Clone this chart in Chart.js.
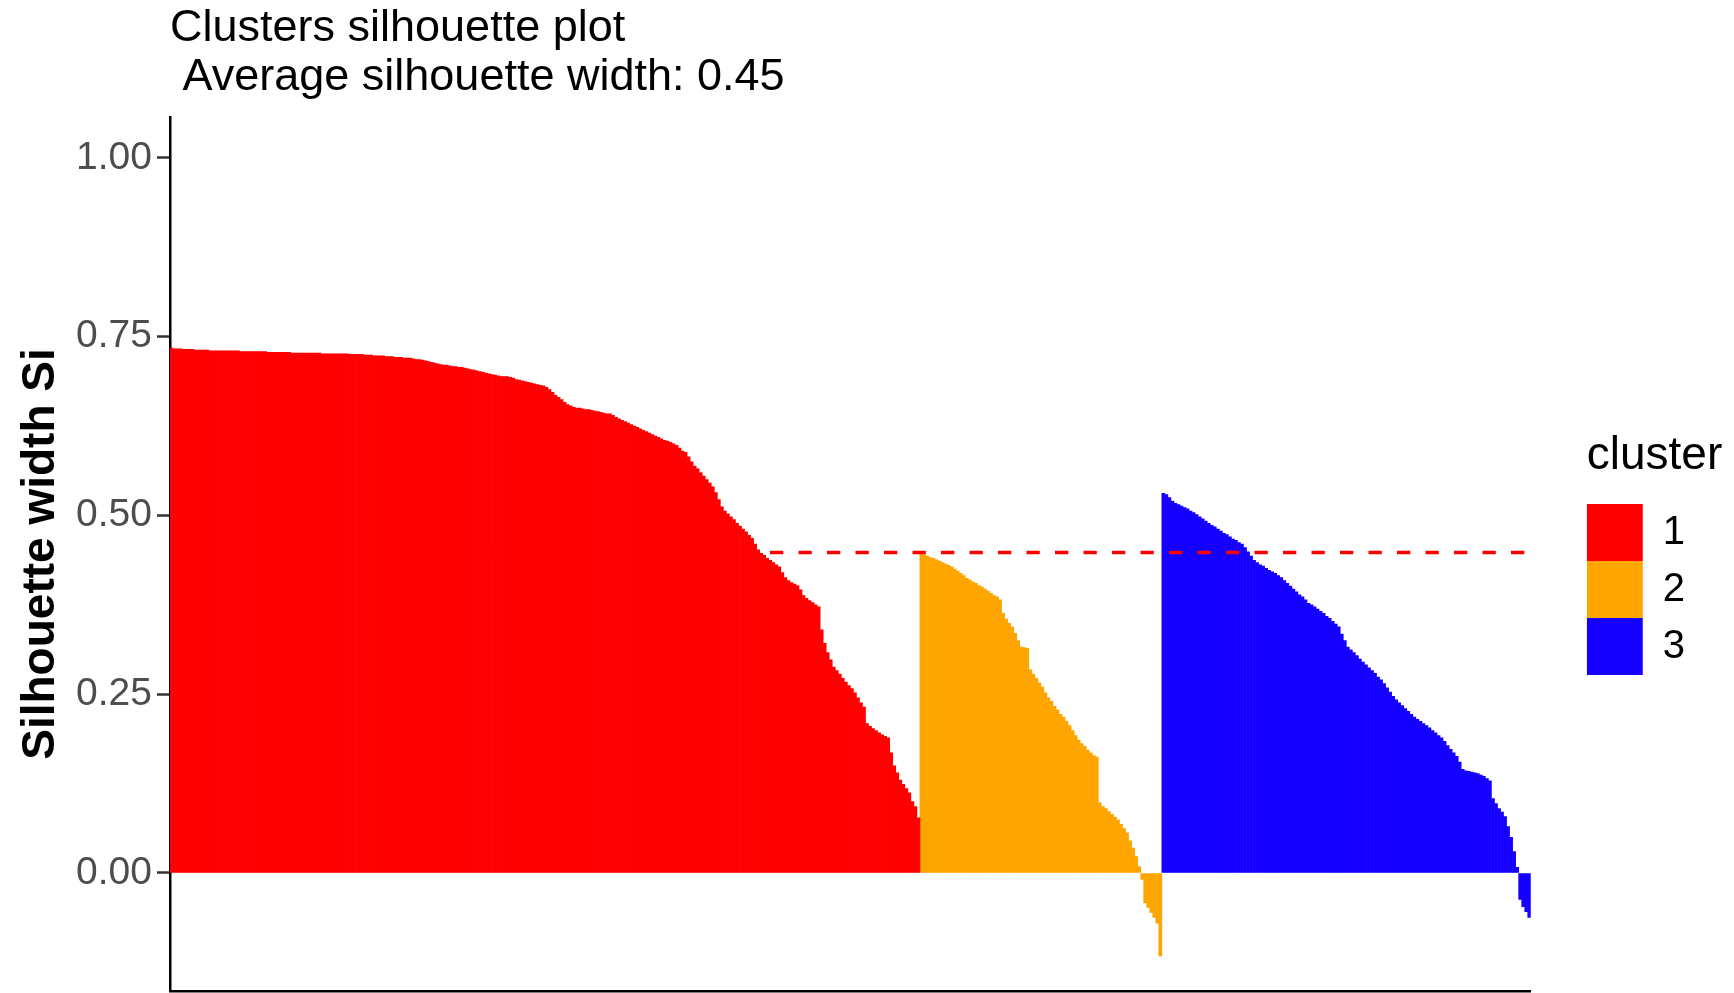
<!DOCTYPE html>
<html>
<head>
<meta charset="utf-8">
<title>Clusters silhouette plot</title>
<script src="https://cdn.jsdelivr.net/npm/chart.js@4.4.1/dist/chart.umd.min.js"></script>
<style>
  html, body { margin: 0; padding: 0; background: #fff; }
  #wrap { width: 1734px; height: 993px; position: relative; }
</style>
</head>
<body>
<div id="wrap"><canvas id="silChart"></canvas></div>
<script>
// silhouette width of every observation, sorted inside each cluster
const cluster1 = [
  .734, .733, .733, .733, .732, .732, .732, .732, .731, .731,
  .731, .731, .731, .730, .730, .730, .730, .730, .730, .730,
  .730, .730, .730, .729, .729, .729, .729, .729, .729, .729,
  .729, .729, .728, .728, .728, .728, .728, .728, .728, .728,
  .727, .727, .727, .727, .727, .727, .727, .727, .727, .727,
  .726, .726, .726, .726, .726, .726, .726, .726, .726, .725,
  .725, .725, .725, .725, .724, .724, .724, .723, .723, .723,
  .723, .722, .722, .722, .721, .721, .721, .720, .720, .720,
  .719, .718, .718, .717, .716, .715, .714, .713, .712, .711,
  .710, .710, .709, .708, .708, .707, .707, .706, .705, .704,
  .703, .702, .701, .700, .699, .698, .697, .696, .695, .694,
  .694, .694, .693, .692, .690, .689, .688, .687, .686, .685,
  .684, .683, .682, .681, .679, .676, .672, .668, .665, .662,
  .658, .655, .653, .651, .650, .650, .649, .648, .648, .647,
  .646, .645, .644, .643, .642, .642, .640, .637, .635, .633,
  .631, .629, .627, .625, .623, .621, .619, .617, .615, .613,
  .611, .609, .607, .605, .604, .602, .600, .598, .594, .590,
  .588, .582, .575, .569, .565, .560, .555, .550, .545, .540,
  .532, .522, .512, .506, .502, .498, .494, .489, .485, .481,
  .477, .472, .468, .460, .452, .447, .444, .440, .437, .434,
  .431, .428, .420, .413, .409, .406, .404, .402, .396, .388,
  .384, .381, .378, .375, .372, .340, .321, .308, .298, .288,
  .283, .278, .272, .267, .262, .258, .252, .245, .238, .232,
  .209, .205, .202, .199, .196, .193, .191, .189, .168, .150,
  .140, .130, .124, .118, .112, .100, .093, .077
];
const cluster2 = [
  .447, .445, .443, .441, .440, .438, .436, .434, .432, .430,
  .428, .425, .422, .419, .416, .412, .410, .407, .405, .402,
  .400, .397, .394, .391, .388, .386, .382, .363, .355, .349,
  .344, .335, .325, .316, .315, .314, .284, .278, .272, .266,
  .260, .252, .245, .240, .233, .228, .222, .218, .212, .206,
  .199, .192, .186, .181, .177, .172, .168, .164, .162, .098,
  .093, .090, .086, .082, .078, .074, .068, .062, .056, .045,
  .035, .023, .009, -.009, -.042, -.048, -.055, -.062, -.070, -.116
];
const cluster3 = [
  .531, .529, .525, .520, .517, .515, .513, .511, .509, .506,
  .504, .501, .498, .495, .492, .489, .486, .484, .481, .478,
  .475, .473, .470, .467, .465, .462, .460, .455, .449, .443,
  .437, .434, .431, .429, .426, .423, .421, .419, .416, .413,
  .409, .405, .401, .397, .393, .389, .386, .382, .377, .375,
  .372, .369, .366, .363, .359, .356, .352, .348, .344, .334,
  .325, .316, .312, .308, .304, .299, .295, .291, .287, .283,
  .279, .274, .270, .265, .259, .253, .247, .242, .238, .234,
  .230, .226, .222, .218, .215, .212, .209, .206, .203, .199,
  .196, .192, .189, .184, .178, .173, .168, .163, .155, .145,
  .143, .142, .141, .140, .139, .137, .135, .132, .129, .104,
  .097, .090, .085, .079, .065, .050, .030, .008, -.037, -.047,
  -.054, -.062
];
const clusterNames = ['1', '2', '3'];
const avgWidth = 0.448;
const yTicks = [0, 0.25, 0.5, 0.75, 1.0];

const clusterColors = ['#FF0000', '#FFA500', '#1500FF'];
const FONT = "'Liberation Sans', Arial, Helvetica, sans-serif";

const clusters = [cluster1, cluster2, cluster3];
const total = clusters.reduce((n, c) => n + c.length, 0);
const obsIds = Array.from({ length: total }, (_, i) => String(i + 1));

let start = 0;
const barSets = clusters.map((vals, k) => {
  const data = obsIds.map(() => null);
  vals.forEach((v, j) => { data[start + j] = v; });
  start += vals.length;
  return {
    type: 'bar',
    label: clusterNames[k],
    data: data,
    backgroundColor: clusterColors[k],
    borderWidth: 0,
    grouped: false,
    barPercentage: 1,
    categoryPercentage: 1,
    order: 2
  };
});

const avgLine = {
  type: 'line',
  label: 'average',
  data: obsIds.map(() => avgWidth),
  borderColor: '#FF0000',
  borderWidth: 3.5,
  borderDash: [13.3, 15.2],
  pointRadius: 0,
  fill: false,
  order: 1
};

// legend title is wider than the legend box, so let it draw past the clip
const legendRoom = {
  id: 'legendRoom',
  beforeDraw(chart) {
    const l = chart.legend;
    if (l) { l.right = chart.width; l.width = l.right - l.left; }
  }
};

Chart.defaults.font.family = FONT;

new Chart(document.getElementById('silChart'), {
  data: { labels: obsIds, datasets: [...barSets, avgLine] },
  plugins: [legendRoom],
  options: {
    responsive: true,
    maintainAspectRatio: false,
    animation: false,
    layout: { padding: { left: 0, right: 39, top: 0, bottom: 0 } },
    plugins: {
      tooltip: { enabled: false },
      title: {
        display: true,
        fullSize: false,
        align: 'start',
        text: ['Clusters silhouette plot', ' Average silhouette width: 0.45'],
        color: '#000',
        font: { size: 45, weight: 'normal', lineHeight: 49 / 45 },
        padding: { top: 4, bottom: 15 }
      },
      legend: {
        position: 'right',
        fullSize: false,
        align: 'center',
        labels: {
          boxWidth: 56,
          boxHeight: 57,
          padding: 0,
          color: '#000',
          font: { size: 40 },
          filter: item => item.datasetIndex < clusterNames.length
        },
        title: {
          display: true,
          text: 'cluster',
          position: 'start',
          color: '#000',
          font: { size: 46 },
          padding: { top: 0, bottom: 16 }
        }
      }
    },
    scales: {
      x: {
        type: 'category',
        offset: true,
        ticks: { display: false },
        grid: { display: false, drawTicks: false },
        border: { display: true, color: '#000', width: 2.5 },
        afterFit: s => { s.height = 2; }
      },
      y: {
        type: 'linear',
        position: 'left',
        min: -0.165,
        max: 1.057,
        afterBuildTicks: s => { s.ticks = yTicks.map(v => ({ value: v })); },
        afterFit: s => { s.width = 170; s.paddingTop = 0; s.paddingBottom = 0; },
        ticks: {
          padding: 5,
          color: '#4D4D4D',
          font: { size: 39 },
          callback: v => Number(v).toFixed(2)
        },
        grid: {
          drawOnChartArea: false,
          drawTicks: true,
          tickLength: 13,
          tickColor: '#333333',
          tickWidth: 2.5
        },
        border: { display: true, color: '#000', width: 2.5 },
        title: {
          display: true,
          text: 'Silhouette width Si',
          color: '#000',
          font: { size: 46, weight: 'bold' },
          padding: { top: 14, bottom: 0 }
        }
      },
      gap: {
        type: 'linear',
        position: 'right',
        display: true,
        ticks: { display: false },
        grid: { display: false },
        border: { display: false },
        afterFit: s => { s.width = 56; s.paddingTop = 0; s.paddingBottom = 0; }
      }
    }
  }
});
</script>
</body>
</html>
